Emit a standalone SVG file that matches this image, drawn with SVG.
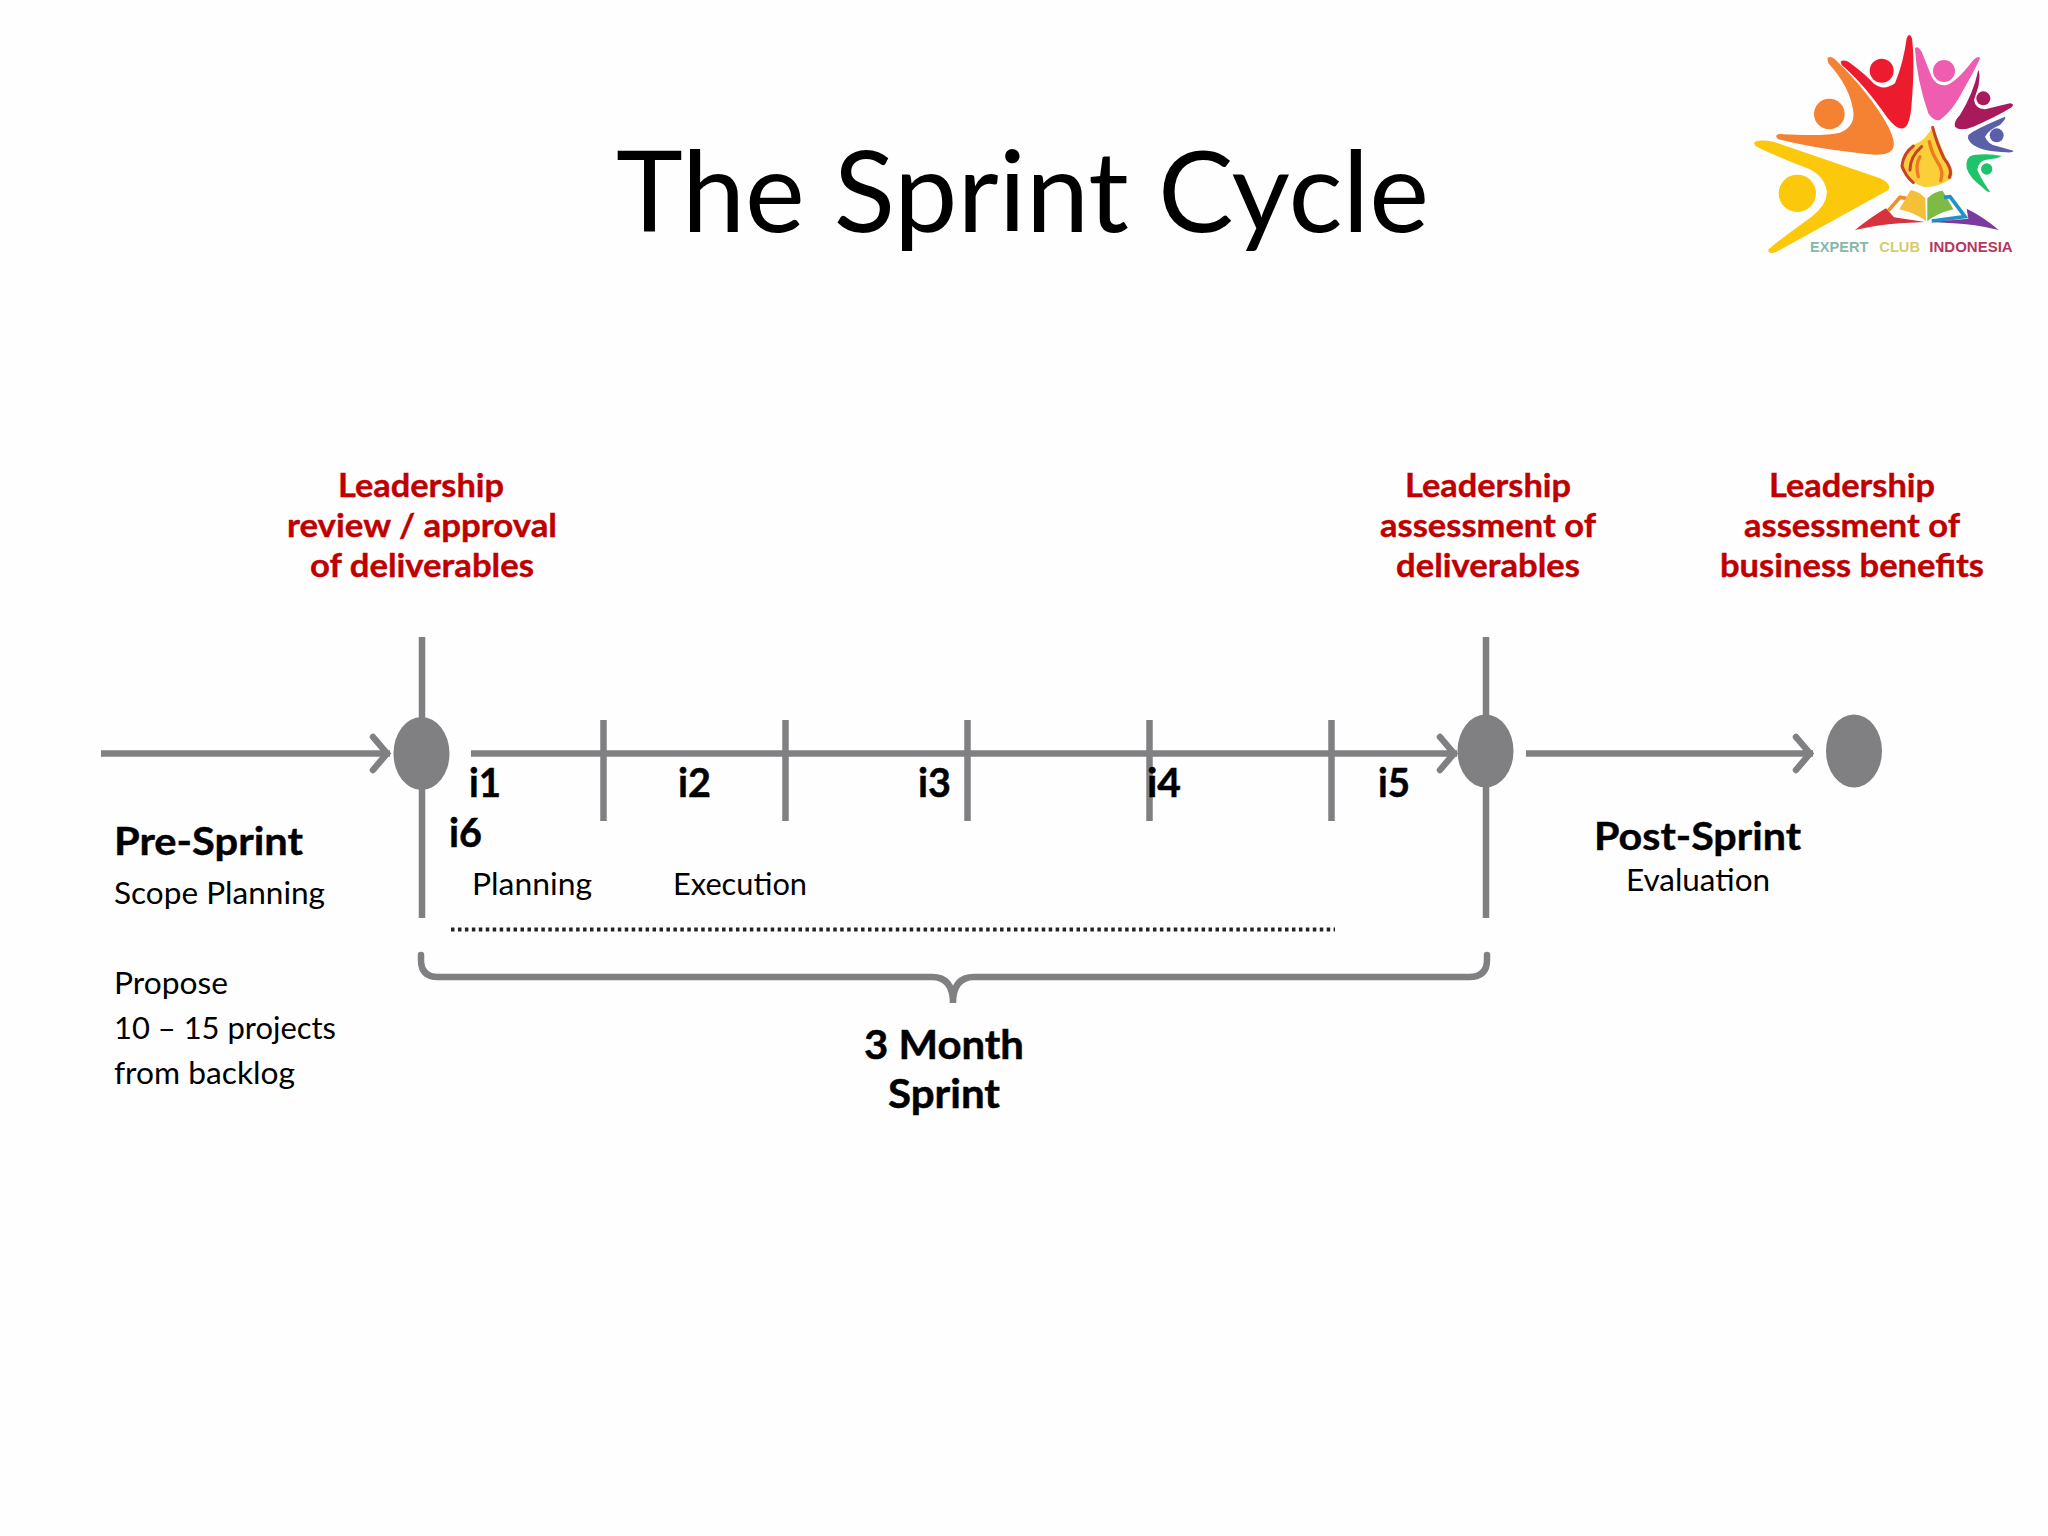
<svg xmlns="http://www.w3.org/2000/svg" width="2048" height="1536" viewBox="0 0 2048 1536">
<defs>
<style>
text{font-family:Lato,"Open Sans","Liberation Sans",sans-serif;fill:#000}
.title{font-size:113px}
.red{font-size:33px;font-weight:700;fill:#c00000;stroke:#c00000;stroke-width:.4}
.iter{font-size:40px;font-weight:700;stroke:#000;stroke-width:.5}
.head{font-size:39px;font-weight:700;stroke:#000;stroke-width:.4}
.body{font-size:30px}
.line{stroke:#808083;stroke-width:6.5;fill:none}
.arrow{marker-end:url(#chev)}
.dot{fill:#808083}
.lg{font-family:"Liberation Sans",Arial,sans-serif;font-size:46px;font-weight:700}
</style>
<marker id="chev" markerUnits="userSpaceOnUse" markerWidth="30" markerHeight="44" refX="27" refY="22" orient="auto" overflow="visible">
<path d="M10,5.5 L24,22 L10,38.5" fill="none" stroke="#808083" stroke-width="6.5" stroke-linecap="round"/>
</marker>
</defs>
<rect width="2048" height="1536" fill="#fefefe"/>
<text id="title" class="title" x="616" y="232" textLength="813" lengthAdjust="spacingAndGlyphs">The Sprint Cycle</text>

<g id="logo" transform="translate(1740,20) scale(.33333)">
<circle cx="172" cy="520" r="56" fill="#fcc80c"/>
<path fill="#fcc80c" d="M45,365Q60,358 100,365L420,475Q455,490 445,510L110,695Q85,705 85,690Q90,680 215,590Q265,550 260,510Q250,460 190,440Q100,405 50,380Q38,372 45,365Z"/>
<circle cx="268" cy="282" r="46" fill="#f58232"/>
<path fill="#f58232" d="M262,115Q270,105 285,118Q390,220 445,320Q475,380 450,395Q430,410 360,400Q220,385 115,358Q100,345 120,342Q250,350 300,338Q345,320 340,275Q330,200 265,130Z"/>
<circle cx="425" cy="152" r="36" fill="#ec1c2e"/>
<path fill="#ec1c2e" d="M302,125Q310,118 325,125Q380,165 400,190Q430,215 465,190Q490,130 500,55Q508,35 516,55Q525,130 515,250Q510,320 490,325Q470,330 440,290Q370,190 305,135Z"/>
<circle cx="612" cy="153" r="33" fill="#ee5db0"/>
<path fill="#ee5db0" d="M525,85Q532,75 545,95L575,170Q590,200 620,195Q650,185 700,120Q715,105 720,115Q710,140 670,210Q640,270 600,300Q580,305 565,280Q530,180 525,85Z"/>
<circle cx="730" cy="235" r="21" fill="#a81a5c"/>
<path fill="#a81a5c" d="M715,150Q722,160 715,200L702,240Q705,265 735,268L810,250Q825,252 815,262Q770,290 700,320Q660,335 645,320Q640,305 660,285Q700,220 715,150Z"/>
<circle cx="770" cy="346" r="21" fill="#5a5fa8"/>
<path fill="#5a5fa8" d="M795,290Q800,295 780,315Q745,330 735,350Q745,375 770,378L820,392Q820,398 800,397Q730,395 700,375Q680,360 685,345Q700,330 795,290Z"/>
<circle cx="740" cy="447" r="17" fill="#1fc36a"/>
<path fill="#1fc36a" d="M785,408Q780,415 735,420Q715,425 712,450Q725,480 750,515Q745,520 725,500Q690,475 680,445Q675,410 700,405Q750,400 785,408Z"/>
<path fill="#fbcf3a" d="M578,318Q600,370 618,415Q645,450 635,475Q600,500 555,502Q510,490 482,445Q478,410 520,375Q560,360 578,318Z"/>
<g fill="none" stroke-linecap="round">
<path stroke="#c9402b" stroke-width="9" d="M578,322Q592,375 612,415Q640,450 628,472M520,378Q490,400 486,438Q496,468 520,488M545,380Q510,410 510,450"/>
<path stroke="#ee7a26" stroke-width="10" d="M568,365Q575,400 595,430Q612,455 602,482M540,410Q525,435 535,470"/>
</g>
<path fill="#d8313f" d="M345,630Q395,590 438,565L462,592L555,606L480,610Q410,615 345,630Z"/>
<path fill="none" stroke="#ef8f2a" stroke-width="11" d="M445,572L480,532L500,535"/>
<path fill="#f6bf3a" d="M478,568L512,510Q540,515 556,535L558,604Q530,580 478,568Z"/>
<path fill="#7dbb44" d="M562,535Q580,515 608,512L640,568Q590,580 562,604Z"/>
<path fill="none" stroke="#1f94c4" stroke-width="11" d="M612,532L630,530L675,590L575,603"/>
<path fill="#7a3a9e" d="M680,566Q730,590 776,630Q700,612 640,610L575,606L685,596Z"/>
<text class="lg" x="210" y="695" style="fill:#86b8a8" textLength="175" lengthAdjust="spacingAndGlyphs">EXPERT</text>
<text class="lg" x="418" y="695" style="fill:#d6cb6a" textLength="122" lengthAdjust="spacingAndGlyphs">CLUB</text>
<text class="lg" x="568" y="695" style="fill:#b5395d" textLength="250" lengthAdjust="spacingAndGlyphs">INDONESIA</text>
</g>

<g id="connectors">
<line class="line" x1="422" y1="637" x2="422" y2="918"/>
<line class="line" x1="1486" y1="637" x2="1486" y2="918"/>
<line class="line arrow" x1="101" y1="753.5" x2="390" y2="753.5"/>
<line class="line arrow" x1="471" y1="753.5" x2="1457" y2="753.5"/>
<line class="line arrow" x1="1526" y1="753.5" x2="1813" y2="753.5"/>
<line class="line" x1="603.5" y1="720" x2="603.5" y2="821"/>
<line class="line" x1="785.5" y1="720" x2="785.5" y2="821"/>
<line class="line" x1="967.5" y1="720" x2="967.5" y2="821"/>
<line class="line" x1="1149.5" y1="720" x2="1149.5" y2="821"/>
<line class="line" x1="1331.5" y1="720" x2="1331.5" y2="821"/>
<line x1="451" y1="929.5" x2="1335" y2="929.5" stroke="#222" stroke-width="4" stroke-dasharray="3.5 3.45"/>
<path id="brace" class="line" stroke-linecap="round" d="M421,955V960Q421,977 438,977H932Q953,977 953,1003Q953,977 974,977H1469Q1487,977 1487,960V955"/>
</g>

<g id="node-review">
<ellipse class="dot" cx="421.5" cy="753.5" rx="28" ry="36.5"/>
<text class="red" x="338" y="497" textLength="166" lengthAdjust="spacingAndGlyphs">Leadership</text>
<text class="red" x="287" y="537" textLength="270" lengthAdjust="spacingAndGlyphs">review / approval</text>
<text class="red" x="310" y="577" textLength="224" lengthAdjust="spacingAndGlyphs">of deliverables</text>
</g>
<g id="node-assessment">
<ellipse class="dot" cx="1485.5" cy="751" rx="28" ry="36.5"/>
<text class="red" x="1405" y="497" textLength="166" lengthAdjust="spacingAndGlyphs">Leadership</text>
<text class="red" x="1380" y="537" textLength="216" lengthAdjust="spacingAndGlyphs">assessment of</text>
<text class="red" x="1396" y="577" textLength="184" lengthAdjust="spacingAndGlyphs">deliverables</text>
</g>
<g id="node-benefits">
<ellipse class="dot" cx="1854" cy="751" rx="28" ry="36.5"/>
<text class="red" x="1769" y="497" textLength="166" lengthAdjust="spacingAndGlyphs">Leadership</text>
<text class="red" x="1744" y="537" textLength="216" lengthAdjust="spacingAndGlyphs">assessment of</text>
<text class="red" x="1720" y="577" textLength="264" lengthAdjust="spacingAndGlyphs">business benefits</text>
</g>
<g id="iterations">
<text class="iter" x="469" y="797" textLength="32" lengthAdjust="spacingAndGlyphs">i1</text>
<text class="iter" x="678" y="797" textLength="33" lengthAdjust="spacingAndGlyphs">i2</text>
<text class="iter" x="918" y="797" textLength="33" lengthAdjust="spacingAndGlyphs">i3</text>
<text class="iter" x="1147" y="797" textLength="34" lengthAdjust="spacingAndGlyphs">i4</text>
<text class="iter" x="1378" y="797" textLength="32" lengthAdjust="spacingAndGlyphs">i5</text>
<text class="iter" x="449" y="847" textLength="33" lengthAdjust="spacingAndGlyphs">i6</text>
<text class="body" x="472" y="895" textLength="120" lengthAdjust="spacingAndGlyphs">Planning</text>
<text class="body" x="673" y="895" textLength="134" lengthAdjust="spacingAndGlyphs">Execution</text>
</g>
<g id="pre-sprint">
<text class="head" x="114" y="855" textLength="189" lengthAdjust="spacingAndGlyphs">Pre-Sprint</text>
<text class="body" x="114" y="904" textLength="211" lengthAdjust="spacingAndGlyphs">Scope Planning</text>
<text class="body" x="114" y="994" textLength="114" lengthAdjust="spacingAndGlyphs">Propose</text>
<text class="body" x="114" y="1039" textLength="222" lengthAdjust="spacingAndGlyphs">10 – 15 projects</text>
<text class="body" x="114" y="1084" textLength="181" lengthAdjust="spacingAndGlyphs">from backlog</text>
</g>
<g id="post-sprint">
<text class="head" x="1594" y="850" textLength="207" lengthAdjust="spacingAndGlyphs">Post-Sprint</text>
<text class="body" x="1626" y="891" textLength="144" lengthAdjust="spacingAndGlyphs">Evaluation</text>
</g>
<g id="sprint-label">
<text class="iter" x="864" y="1059" textLength="160" lengthAdjust="spacingAndGlyphs">3 Month</text>
<text class="iter" x="888" y="1108" textLength="112" lengthAdjust="spacingAndGlyphs">Sprint</text>
</g>
</svg>
